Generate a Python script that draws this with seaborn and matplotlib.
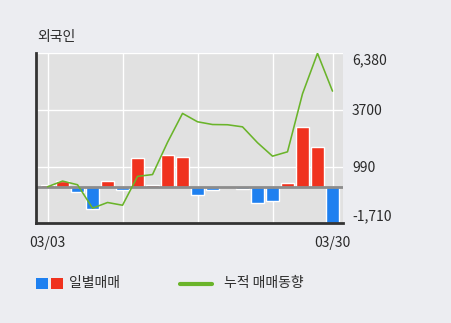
import numpy as np
import pandas as pd
import matplotlib
matplotlib.use("Agg")
import matplotlib.pyplot as plt
from matplotlib.patches import Rectangle
from matplotlib.lines import Line2D
import seaborn as sns

# ---- data ----
dates = ["03/03", "03/04", "03/05", "03/06", "03/09", "03/10", "03/11", "03/12", "03/13", "03/16",
         "03/17", "03/18", "03/19", "03/20", "03/23", "03/24", "03/25", "03/26", "03/27", "03/30"]
daily = [90, 318, -238, -1047, 285, -143, 1380, 115, 1555, 1428,
         -365, -130, 0, -95, -762, -635, 190, 2856, 1904, -1710]
cumulative = [30, 300, 124, -990, -720, -850, 523, 610, 2144, 3520,
              3121, 2991, 2980, 2880, 2125, 1485, 1692, 4453, 6380, 4580]
ytick_values = [6380, 3700, 990, -1710]
ytick_labels = ["6,380", "3700", "990", "-1,710"]
xlabel_first, xlabel_last = "03/03", "03/30"
title = "외국인"
legend_bar = "일별매매"
legend_line = "누적 매매동향"

RED = "#f0321e"
BLUE = "#1e80f0"
GREEN = "#6ab42a"
FIG_BG = "#ecedf1"
AX_BG = "#e1e1e1"
TEXT = "#2a2a2a"

sns.set_theme(style="white")
plt.rcParams["font.family"] = ["Noto Sans CJK KR", "DejaVu Sans"]
plt.rcParams["axes.unicode_minus"] = False

fig = plt.figure(figsize=(4.51, 3.23), dpi=100, facecolor=FIG_BG)
ax = fig.add_axes([36 / 451, 1 - 223.3 / 323, (343 - 36) / 451, (223.3 - 53.3) / 323])
ax.set_facecolor(AX_BG)

df = pd.DataFrame({"date": dates, "daily": daily, "cum": cumulative})
df["idx"] = np.arange(len(df))
colors = [RED if v >= 0 else BLUE for v in daily]

sns.barplot(data=df, x="idx", y="daily", hue="idx", palette=colors, legend=False,
            width=0.87, saturation=1, ax=ax, zorder=3)
ax.axhline(0, color="#8c8c8c", lw=2, zorder=4)
sns.lineplot(data=df, x="idx", y="cum", color=GREEN, lw=1.15, ax=ax, zorder=5)

ax.set_xlim(-0.77, 19.7)
ax.set_ylim(-1710, 6380)

# grid
ax.set_xticks([0, 5, 10, 15, 19])
ax.set_xticklabels([xlabel_first, "", "", "", xlabel_last])
ax.set_yticks(ytick_values)
ax.set_yticklabels(ytick_labels)
ax.grid(True, color="white", lw=1, zorder=1)
ax.set_axisbelow(True)
ax.yaxis.tick_right()
ax.tick_params(axis="y", length=0, pad=6.5, labelsize=10, colors=TEXT)
ax.tick_params(axis="x", length=0, pad=9, labelsize=10, colors=TEXT)
ylabels = ax.get_yticklabels()
ylabels[0].set_va("top")
ylabels[-1].set_va("bottom")
ax.set_xlabel("")
ax.set_ylabel("")

for s in ["top", "right"]:
    ax.spines[s].set_visible(False)
for s in ["left", "bottom"]:
    ax.spines[s].set_color("#333333")
    ax.spines[s].set_linewidth(2)
    ax.spines[s].set_zorder(6)

# title
fig.text(37 / 451, 1 - 37.5 / 323, title, fontsize=10, va="center", ha="left", color=TEXT)

# legend
yl = 1 - 283.5 / 323
fig.patches.append(Rectangle((36 / 451, 1 - 289 / 323), 12 / 451, 11 / 323,
                             transform=fig.transFigure, facecolor=BLUE, edgecolor="none"))
fig.patches.append(Rectangle((51 / 451, 1 - 289 / 323), 12 / 451, 11 / 323,
                             transform=fig.transFigure, facecolor=RED, edgecolor="none"))
fig.text(69 / 451, yl, legend_bar, fontsize=10, va="center", ha="left", color=TEXT)
fig.lines.append(Line2D([180 / 451, 212 / 451], [yl, yl], transform=fig.transFigure,
                        color=GREEN, lw=3))
fig.text(224 / 451, yl, legend_line, fontsize=10, va="center", ha="left", color=TEXT)

fig.savefig("out.png", dpi=100, facecolor=FIG_BG)
